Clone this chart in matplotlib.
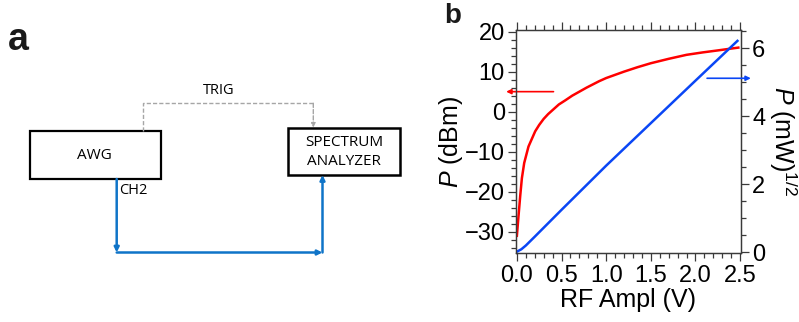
import numpy as np
import matplotlib
matplotlib.use("Agg")
import matplotlib.pyplot as plt
from matplotlib.patches import Rectangle
from matplotlib.ticker import MultipleLocator, FormatStrFormatter

plt.rcParams['font.family'] = ['Liberation Sans', 'DejaVu Sans']
plt.rcParams['mathtext.fontset'] = 'custom'
plt.rcParams['mathtext.rm'] = 'Liberation Sans'
plt.rcParams['mathtext.it'] = 'Liberation Sans:italic'

# panel b data
rf_ampl_red = [0.0, 0.018, 0.037, 0.056, 0.082, 0.13, 0.205, 0.25, 0.30, 0.35,
               0.41, 0.47, 0.54, 0.62, 0.70, 0.78, 0.85, 0.92, 1.0, 1.1,
               1.2, 1.35, 1.5, 1.7, 1.9, 2.08, 2.25, 2.38, 2.48]
power_dbm = [-31.0, -26.1, -21.1, -16.6, -12.8, -8.7, -4.9, -3.3, -1.8, -0.6,
             0.6, 1.8, 2.8, 4.0, 5.0, 6.0, 6.8, 7.6, 8.4, 9.2,
             10.0, 11.1, 12.1, 13.2, 14.2, 14.8, 15.3, 15.7, 16.0]
rf_ampl_blue = [0.0, 0.05, 0.1, 0.2, 0.5, 1.0, 1.5, 2.0, 2.47]
power_sqrt = [0.02, 0.09, 0.2, 0.46, 1.25, 2.55, 3.8, 5.05, 6.22]

RED = '#ff0000'
BLUE = '#0a46f5'
LINE_BLUE = '#0f74c8'
GREY = '#a6a6a6'
DIAG_FONT = ['Open Sans', 'DejaVu Sans']

W, H = 799, 322
fig = plt.figure(figsize=(W / 100, H / 100), dpi=100)

# ---- panel a: block diagram, drawn in pixel coords ----
ax_a = fig.add_axes([0, 0, 1, 1])
ax_a.set_xlim(0, W)
ax_a.set_ylim(H, 0)
ax_a.axis('off')

ax_a.add_patch(Rectangle((29.5, 131), 131, 48, fill=False, ec='black', lw=1.6))
ax_a.add_patch(Rectangle((288, 128), 112, 47, fill=False, ec='black', lw=1.8))
ax_a.text(94.5, 155, 'AWG', ha='center', va='center', fontsize=11, family=DIAG_FONT)
ax_a.text(344, 142.5, 'SPECTRUM', ha='center', va='center', fontsize=11, family=DIAG_FONT)
ax_a.text(344, 161, 'ANALYZER', ha='center', va='center', fontsize=11, family=DIAG_FONT)
ax_a.text(218.5, 90.5, 'TRIG', ha='center', va='center', fontsize=10.5, family=DIAG_FONT)
ax_a.text(119.5, 190.5, 'CH2', ha='left', va='center', fontsize=10.5, family=DIAG_FONT)

# trigger line (dashed grey)
ax_a.plot([142.7, 142.7, 313.3], [131, 103.3, 103.3], ls=(0, (3, 1.5)), color=GREY, lw=1)
ax_a.annotate('', xy=(313.3, 127.5), xytext=(313.3, 103.3),
              arrowprops=dict(arrowstyle='-|>', color=GREY, lw=1, ls=(0, (3, 1.5)),
                              mutation_scale=6, shrinkA=0, shrinkB=0))

# CH2 signal path (blue)
blue_arrow = dict(arrowstyle='-|>', color=LINE_BLUE, lw=1.8, mutation_scale=7,
                  shrinkA=0, shrinkB=0)
ax_a.annotate('', xy=(116.7, 252.5), xytext=(116.7, 179), arrowprops=blue_arrow)
ax_a.annotate('', xy=(322.5, 252.5), xytext=(116.7, 252.5), arrowprops=blue_arrow)
ax_a.annotate('', xy=(322.5, 175), xytext=(322.5, 252.5), arrowprops=blue_arrow)

ax_a.text(8, 50, 'a', fontsize=27, fontweight='bold', color='#1a1a1a', ha='left', va='baseline')
ax_a.text(444, 23, 'b', fontsize=20, fontweight='bold', color='#1a1a1a', ha='left', va='baseline')

# ---- panel b ----
ax = fig.add_axes([516 / W, 1 - 253 / H, 225 / W, 223 / H])
ax2 = ax.twinx()

ax.plot(rf_ampl_red, power_dbm, color=RED, lw=1.8)
ax2.plot(rf_ampl_blue, power_sqrt, color=BLUE, lw=1.8)

ax.set_xlim(-0.01, 2.51)
ax.set_ylim(-35.3, 20.4)
ax2.set_ylim(-0.02, 6.54)

ax.xaxis.set_major_locator(MultipleLocator(0.5))
ax.xaxis.set_minor_locator(MultipleLocator(0.1))
ax.yaxis.set_major_locator(MultipleLocator(10))
ax.yaxis.set_minor_locator(MultipleLocator(2))
ax2.yaxis.set_major_locator(MultipleLocator(2))
ax2.yaxis.set_minor_locator(MultipleLocator(0.5))
ax.xaxis.set_major_formatter(FormatStrFormatter('%.1f'))

for a in (ax, ax2):
    for s in a.spines.values():
        s.set_color('#3a3a3a')
        s.set_linewidth(0.9)
ax.tick_params(which='both', direction='out', top=True, right=False,
               color='#3a3a3a', width=0.9, labelsize=17)
ax.tick_params(which='major', length=6)
ax.tick_params(which='minor', length=3.5)
ax.tick_params(axis='x', pad=3)
ax.tick_params(axis='y', pad=2)
ax2.tick_params(which='both', direction='out', color='#3a3a3a', width=0.9, labelsize=17, pad=2)
ax2.tick_params(which='major', length=6)
ax2.tick_params(which='minor', length=3.5)

ax.set_xlabel('RF Ampl (V)', fontsize=18, labelpad=0)
ax.set_ylabel(r'$\it{P}$ (dBm)', fontsize=18, labelpad=0)
ax2.set_ylabel(r'$\it{P}$ (mW)$^{1/2}$', fontsize=18, rotation=-90, labelpad=24)

# axis-indicator arrows
ax.annotate('', xy=(-0.12, 5.0), xytext=(0.41, 5.0), annotation_clip=False,
            arrowprops=dict(arrowstyle='-|>', color=RED, lw=1.2, mutation_scale=7,
                            shrinkA=0, shrinkB=0))
ax2.annotate('', xy=(2.62, 5.12), xytext=(2.13, 5.12), annotation_clip=False,
             arrowprops=dict(arrowstyle='-|>', color=BLUE, lw=1.2, mutation_scale=7,
                             shrinkA=0, shrinkB=0))

fig.savefig('out.png', dpi=100)
